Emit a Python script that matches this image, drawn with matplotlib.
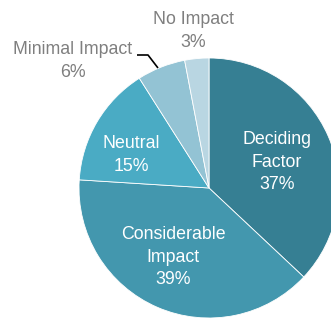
import matplotlib.pyplot as plt
from matplotlib import font_manager

# 数据
categories = ['Deciding Factor', 'Considerable Impact', 'Neutral', 'Minimal Impact', 'No Impact']
values = [37, 39, 15, 6, 3]
label_texts = ['Deciding\nFactor\n37%', 'Considerable\nImpact\n39%', 'Neutral\n15%',
               'Minimal Impact\n6%', 'No Impact\n3%']
colors = ['#367f93', '#4397ae', '#4aabc4', '#93c3d4', '#b9d6e2']

# 字体: 优先窄体
names = {f.name for f in font_manager.fontManager.ttflist}
fam = ['Liberation Sans Narrow'] if 'Liberation Sans Narrow' in names else []
plt.rcParams['font.family'] = fam + ['Liberation Sans', 'DejaVu Sans']

W, H = 331, 319
cx, cy, R = 209, 188, 130  # 饼图中心和半径(像素)

def px(x, y):
    return (x - cx) / R, (cy - y) / R

fig = plt.figure(figsize=(W / 100, H / 100), dpi=100)
ax = fig.add_axes([0, 0, 1, 1])
ax.pie(values, colors=colors, startangle=90, counterclock=False, radius=1,
       wedgeprops=dict(edgecolor='white', linewidth=0.6))
ax.set_xlim(-cx / R, (W - cx) / R)
ax.set_ylim(-(H - cy) / R, cy / R)
ax.set_aspect('equal')
ax.axis('off')

fs = 12.8
ls = 1.4
# 标签位置(像素)
inside = {0: (277, 162), 1: (173, 257), 2: (131, 155)}
outside = {3: (73, 61), 4: (193, 31)}
for i, (x, y) in inside.items():
    ax.text(*px(x, y), label_texts[i], ha='center', va='center', color='white',
            fontsize=fs, linespacing=ls)
for i, (x, y) in outside.items():
    ax.text(*px(x, y), label_texts[i], ha='center', va='center', color='#7f7f7f',
            fontsize=fs, linespacing=ls)

# 引线
lx = [137, 148, 158]
ly = [55, 55, 68]
ax.plot([px(a, b)[0] for a, b in zip(lx, ly)], [px(a, b)[1] for a, b in zip(lx, ly)],
        color='black', lw=1.2, solid_capstyle='butt')

fig.savefig('out.png', dpi=100)
